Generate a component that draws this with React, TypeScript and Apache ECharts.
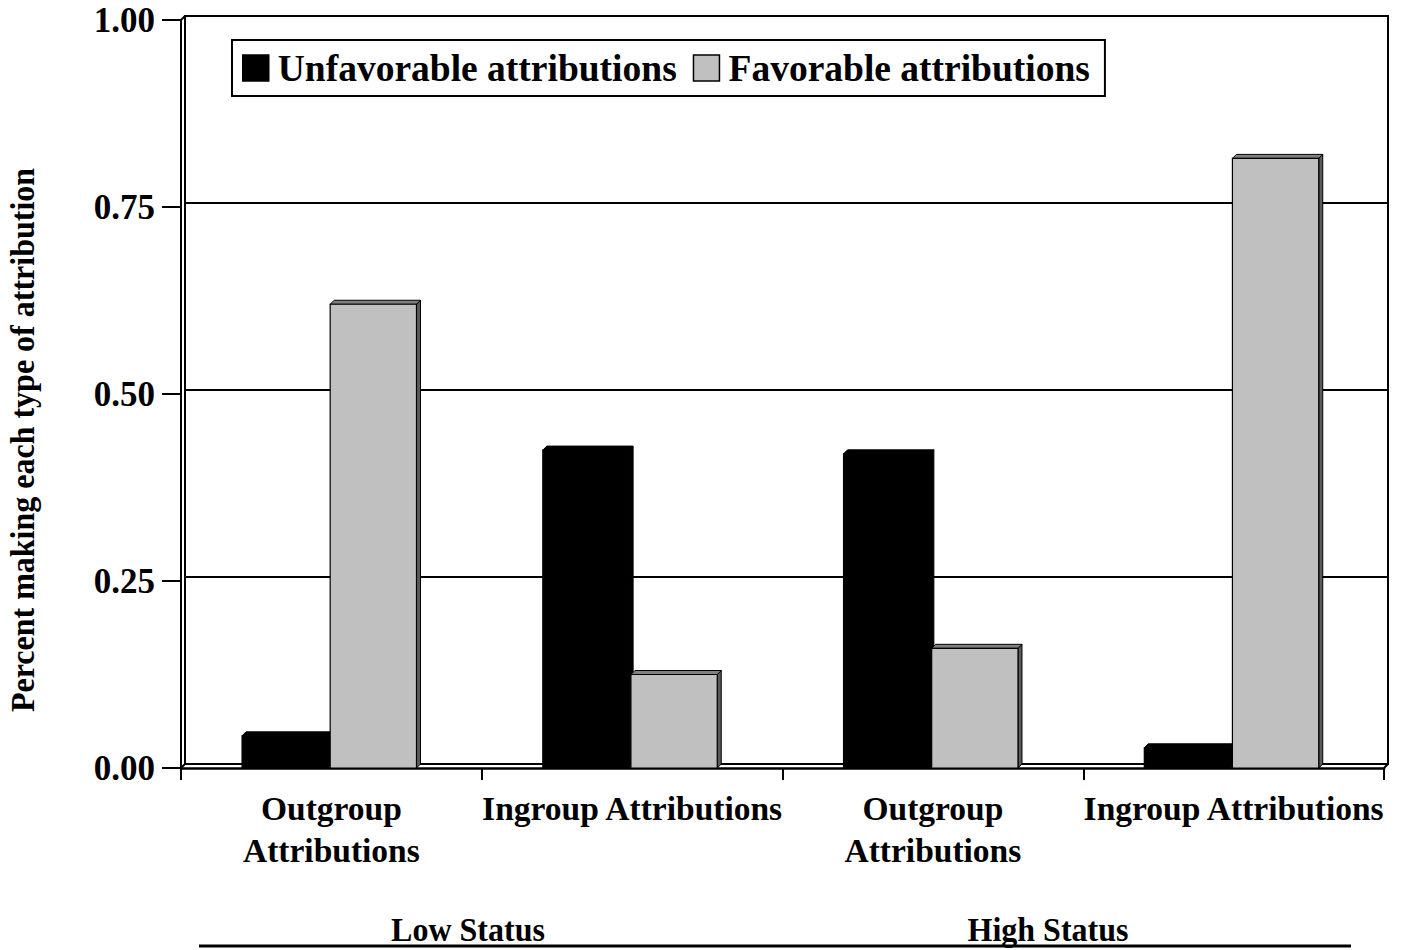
import React, { useEffect, useRef } from "react";
import * as echarts from "echarts";

const categories = [
  "Outgroup\nAttributions",
  "Ingroup Attributions",
  "Outgroup\nAttributions",
  "Ingroup Attributions",
];
const seriesNames = ["Unfavorable attributions", "Favorable attributions"];
const unfavorable = [0.043, 0.425, 0.42, 0.027];
const favorable = [0.62, 0.125, 0.16, 0.815];
const statusGroups = ["Low Status", "High Status"];

const FONT = '"Liberation Serif", "Times New Roman", serif';
const DEPTH = 4;
const frontColors = ["#000000", "#c0c0c0"];
const topColors = ["#000000", "#808080"];
const sideColors = ["#000000", "#5a5a5a"];

// Pseudo-3D column: front face plus a top and right side face.
function makeBarRenderer(idx: number) {
  return (params: any, api: any) => {
    const ci = api.value(0);
    const v = api.value(1);
    const base = api.coord([ci, 0]);
    const top = api.coord([ci, v]);
    const band = api.size([1, 0])[0];
    const w = band * 0.287;
    const x0 = base[0] - band * 0.297 + idx * band * 0.293;
    const yT = top[1];
    const yB = base[1];
    const d = DEPTH;
    const stroke = "#000";
    return {
      type: "group",
      children: [
        {
          type: "polygon",
          shape: {
            points: [
              [x0 + w, yT],
              [x0 + w + d, yT - d],
              [x0 + w + d, yB - d],
              [x0 + w, yB],
            ],
          },
          style: { fill: sideColors[idx], stroke, lineWidth: 1 },
        },
        {
          type: "polygon",
          shape: {
            points: [
              [x0, yT],
              [x0 + d, yT - d],
              [x0 + w + d, yT - d],
              [x0 + w, yT],
            ],
          },
          style: { fill: topColors[idx], stroke, lineWidth: 1 },
        },
        {
          type: "rect",
          shape: { x: x0, y: yT, width: w, height: yB - yT },
          style: { fill: frontColors[idx], stroke, lineWidth: 1.2 },
        },
      ],
    };
  };
}

// Corner edges joining the front axes to the back wall.
function renderFrame(params: any, api: any) {
  const cs = params.coordSys;
  const x0 = cs.x;
  const y0 = cs.y;
  const x1 = cs.x + cs.width;
  const y1 = cs.y + cs.height;
  const d = DEPTH;
  const ls = { stroke: "#000", lineWidth: 2 };
  return {
    type: "group",
    children: [
      { type: "line", shape: { x1: x0, y1: y0, x2: x0 + d, y2: y0 - d }, style: ls },
      { type: "line", shape: { x1: x0, y1: y1, x2: x0 + d, y2: y1 - d }, style: ls },
      { type: "line", shape: { x1: x1, y1: y1, x2: x1 + d, y2: y1 - d }, style: ls },
    ],
  };
}

export default function App() {
  const ref = useRef<HTMLDivElement>(null);

  useEffect(() => {
    document.body.style.margin = "0";
    const chart = echarts.init(ref.current!, null, { renderer: "svg" });
    const mkData = (arr: number[]) => arr.map((v, i) => [i, v]);
    const titleText = (text: string, x: number, y: number, rotation = 0) => ({
      type: "text",
      x,
      y,
      rotation,
      scaleY: 1.08,
      style: {
        text,
        fontFamily: FONT,
        fontWeight: "bold",
        fontSize: 32,
        fill: "#000",
        align: "center",
        verticalAlign: "middle",
      },
    });

    chart.setOption({
      animation: false,
      backgroundColor: "#ffffff",
      textStyle: { fontFamily: FONT },
      grid: [
        { left: 181, right: 17, top: 20, bottom: 182, containLabel: false },
        {
          left: 181 + DEPTH,
          right: 17 - DEPTH,
          top: 20 - DEPTH,
          bottom: 182 + DEPTH,
          show: true,
          borderColor: "#000",
          borderWidth: 2,
          backgroundColor: "transparent",
        },
      ],
      legend: {
        data: seriesNames.map((n, i) => ({
          name: n,
          icon: "rect",
          itemStyle: { color: frontColors[i], borderColor: "#000", borderWidth: 1.5 },
        })),
        left: 232,
        top: 40,
        orient: "horizontal",
        backgroundColor: "#fff",
        borderColor: "#000",
        borderWidth: 2,
        padding: [9, 15, 9, 10],
        itemGap: 16,
        itemWidth: 26,
        itemHeight: 26,
        selectedMode: false,
        textStyle: {
          fontFamily: FONT,
          fontWeight: "bold",
          fontSize: 37.5,
          color: "#000",
          padding: [0, 0, 0, 4],
        },
      },
      xAxis: [
        {
          type: "category",
          gridIndex: 0,
          data: categories,
          boundaryGap: true,
          axisLine: { lineStyle: { color: "#000", width: 2.5 } },
          axisTick: { show: true, length: 12, lineStyle: { color: "#000", width: 2 } },
          axisLabel: {
            color: "#000",
            fontFamily: FONT,
            fontWeight: "bold",
            fontSize: 33.5,
            lineHeight: 42,
            margin: 19,
            interval: 0,
          },
          splitLine: { show: false },
        },
        {
          type: "category",
          gridIndex: 1,
          data: categories,
          show: false,
        },
      ],
      yAxis: [
        {
          type: "value",
          gridIndex: 0,
          min: 0,
          max: 1,
          interval: 0.25,
          axisLine: { show: true, lineStyle: { color: "#000", width: 2 } },
          axisTick: { show: true, length: 19, lineStyle: { color: "#000", width: 2 } },
          axisLabel: {
            color: "#000",
            fontFamily: FONT,
            fontWeight: "bold",
            fontSize: 35,
            margin: 26,
            formatter: (v: number) => v.toFixed(2),
          },
          splitLine: { show: false },
        },
        {
          type: "value",
          gridIndex: 1,
          min: 0,
          max: 1,
          interval: 0.25,
          axisLine: { show: false },
          axisTick: { show: false },
          axisLabel: { show: false },
          splitLine: { show: true, lineStyle: { color: "#000", width: 2 } },
        },
      ],
      series: [
        {
          name: "frame",
          type: "custom",
          xAxisIndex: 0,
          yAxisIndex: 0,
          silent: true,
          renderItem: renderFrame,
          data: [[0, 0]],
          z: 1,
        },
        {
          name: seriesNames[0],
          type: "custom",
          xAxisIndex: 0,
          yAxisIndex: 0,
          itemStyle: { color: frontColors[0] },
          renderItem: makeBarRenderer(0),
          encode: { x: 0, y: 1 },
          data: mkData(unfavorable),
          z: 3,
        },
        {
          name: seriesNames[1],
          type: "custom",
          xAxisIndex: 0,
          yAxisIndex: 0,
          itemStyle: { color: frontColors[1] },
          renderItem: makeBarRenderer(1),
          encode: { x: 0, y: 1 },
          data: mkData(favorable),
          z: 3,
        },
      ],
      graphic: [
        titleText("Percent making each type of attribution", 22, 440, Math.PI / 2),
        titleText(statusGroups[0], 468, 929),
        titleText(statusGroups[1], 1048, 929),
        {
          type: "line",
          shape: { x1: 199, y1: 946, x2: 1351, y2: 946 },
          style: { stroke: "#000", lineWidth: 3 },
        },
      ],
    });

    return () => chart.dispose();
  }, []);

  return <div ref={ref} style={{ width: 1401, height: 950 }} />;
}
